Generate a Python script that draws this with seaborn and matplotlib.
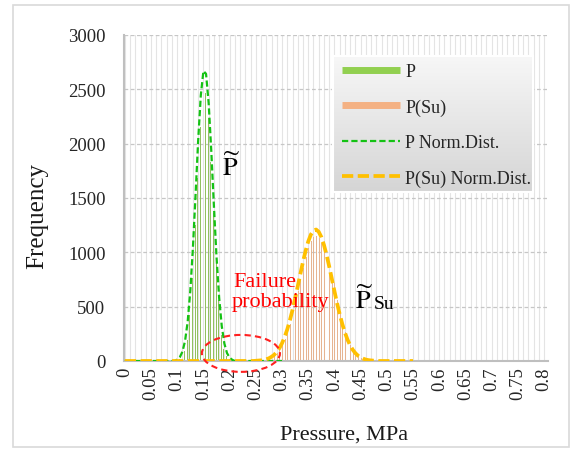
import numpy as np
import pandas as pd
import matplotlib
matplotlib.use("Agg")
import matplotlib.pyplot as plt
import seaborn as sns
from matplotlib.lines import Line2D
from matplotlib.patches import Ellipse, Rectangle
from matplotlib.colors import LinearSegmentedColormap

# Pressure bins (MPa), 0.005 apart
pressure = [round(i * 0.005, 3) for i in range(161)]
tick_labels = ["0", "0.05", "0.1", "0.15", "0.2", "0.25", "0.3", "0.35", "0.4",
               "0.45", "0.5", "0.55", "0.6", "0.65", "0.7", "0.75", "0.8"]

# Histogram of P, first bin 0.105 MPa
p_start = 0.105
p_freq = [20, 40, 95, 190, 420, 760, 1250, 1680, 2150, 2510, 2470, 2240, 1830,
          1360, 930, 560, 240, 110, 45, 15]

# Histogram of P(Su), first bin 0.27 MPa
psu_start = 0.27
psu_freq = [10, 18, 30, 48, 75, 110, 150, 200, 265, 340, 430, 530, 640, 750,
            860, 960, 1040, 1100, 1140, 1150, 1130, 1090, 1080, 940, 800, 740,
            720, 560, 460, 360, 270, 200, 150, 105, 70, 45, 30, 18, 10, 5]

# Fitted normal curves: the P curve is drawn over 0-0.30 MPa, P(Su) over 0-0.55 MPa
p_norm_end = 0.30
p_norm_start = 0.100
p_norm = [14, 36, 86, 186, 364, 648, 1046, 1530, 2031, 2445, 2669, 2643, 2373,
          1934, 1428, 958, 582, 320, 160, 73, 30, 11]

psu_norm_end = 0.55
psu_norm_start = 0.250
psu_norm = [2, 4, 6, 10, 16, 25, 39, 57, 84, 118,
            164, 221, 291, 375, 470, 576, 688, 802, 913, 1014,
            1100, 1163, 1201, 1210, 1189, 1141, 1068, 976, 870, 757,
            643, 532, 431, 340, 262, 196, 144, 103, 72, 49,
            33, 21, 13, 8, 5, 3, 2]


def idx(p):
    return int(round(p / 0.005))


def place(start, values, length):
    out = [0] * length
    i0 = idx(start)
    for k, v in enumerate(values):
        out[i0 + k] = v
    return out


n = len(pressure)
p_full = place(p_start, p_freq, n)
psu_full = place(psu_start, psu_freq, n)
p_norm_full = place(p_norm_start, p_norm, idx(p_norm_end) + 1)
psu_norm_full = place(psu_norm_start, psu_norm, idx(psu_norm_end) + 1)

green_bar = "#92d050"
orange_bar = "#f4b183"
green_line = "#14c214"
orange_line = "#ffc000"

sns.set_style("white")
plt.rcParams["font.family"] = ["Liberation Serif", "DejaVu Serif"]
plt.rcParams["mathtext.fontset"] = "stix"

W, H = 571, 452
fig = plt.figure(figsize=(W / 100, H / 100), dpi=100)
ax_l, ax_r, ax_t, ax_b = 123.5, 548, 36, 362
ax = fig.add_axes([ax_l / W, 1 - ax_b / H, (ax_r - ax_l) / W, (ax_b - ax_t) / H])

df = pd.DataFrame({
    "Pressure": pressure * 2,
    "Frequency": p_full + psu_full,
    "Series": ["P"] * n + ["P(Su)"] * n,
})
sns.barplot(data=df, x="Pressure", y="Frequency", hue="Series",
            palette={"P": green_bar, "P(Su)": orange_bar},
            width=0.7, dodge=True, linewidth=0, errorbar=None,
            legend=False, ax=ax, zorder=2)

sns.lineplot(x=list(range(len(p_norm_full))), y=p_norm_full, ax=ax,
             color=green_line, lw=1.6, linestyle=(0, (2.8, 1.4)), zorder=3)
sns.lineplot(x=list(range(len(psu_norm_full))), y=psu_norm_full, ax=ax,
             color=orange_line, lw=2.7, linestyle=(0, (3.0, 1.2)), zorder=3)

# axes and grid
ax.set_xlim(-0.5, n + 0.5)
ax.set_ylim(0, 3000)
ax.set_xticks(range(0, n, 10))
ax.set_xticks(range(0, n, 2), minor=True)
ax.set_xticklabels(tick_labels, rotation=90, fontsize=13.5, color="#262626")
ax.set_yticks(range(0, 3001, 500))
ax.set_yticklabels([str(v) for v in range(0, 3001, 500)], fontsize=13.5, color="#262626")
ax.tick_params(axis="x", which="both", length=0, pad=4)
ax.tick_params(axis="y", length=5, width=1, color="#bfbfbf", pad=8)
ax.set_axisbelow(True)
ax.grid(axis="x", which="both", color="#e4e4e4", lw=0.8, ls="-")
ax.grid(axis="y", which="major", color="#c6c6c6", lw=0.9, ls=(0, (3, 2)))
for s in ("top", "right"):
    ax.spines[s].set_visible(False)
for s in ("left", "bottom"):
    ax.spines[s].set_color("#bfbfbf")
    ax.spines[s].set_linewidth(1.5)

ax.set_xlabel("Pressure, MPa", fontsize=16, color="#1a1a1a")
ax.set_ylabel("Frequency", fontsize=18, color="#1a1a1a")
ax.xaxis.set_label_coords((344 - ax_l) / (ax_r - ax_l), -(435 - ax_b) / (ax_b - ax_t))
ax.xaxis.label.set_va("center")
ax.yaxis.set_label_coords(-(ax_l - 37) / (ax_r - ax_l), 1 - (216 - ax_t) / (ax_b - ax_t))
ax.yaxis.label.set_va("center")

# annotations
ax.text(idx(0.185), 1710, r"$\widetilde{\mathrm{P}}$", fontsize=19,
        ha="left", va="baseline", color="black", zorder=6)
ax.text(idx(0.4425), 489, r"$\widetilde{\mathrm{P}}$", fontsize=19,
        ha="left", va="baseline", color="black", zorder=6)
ax.text(95.0, 489, "Su", fontsize=14, ha="left", va="baseline", color="black", zorder=6)
ax.text(41.3, 692, "Failure", fontsize=16, color="#ff0000", ha="left", va="baseline", zorder=6)
ax.text(40.9, 508, "probability", fontsize=16, color="#ff0000", ha="left", va="baseline", zorder=6)
ax.add_patch(Ellipse((44.3, 70), 29.8, 340, fill=False, edgecolor="#ff2020",
                     lw=1.5, ls=(0, (3, 2)), clip_on=False, zorder=6))

# legend with a soft gradient panel
lx0 = (333 - ax_l) / (ax_r - ax_l)
lx1 = (533 - ax_l) / (ax_r - ax_l)
ly0 = 1 - (193 - ax_t) / (ax_b - ax_t)
ly1 = 1 - (57 - ax_t) / (ax_b - ax_t)
grad = np.linspace(0, 1, 200).reshape(-1, 1)
cmap = LinearSegmentedColormap.from_list("panel", ["#f7f7f7", "#d5d5d5"])
ax.imshow(grad, cmap=cmap, extent=(lx0, lx1, ly0, ly1), transform=ax.transAxes,
          aspect="auto", origin="upper", zorder=4, interpolation="bilinear")
ax.add_patch(Rectangle((lx0, ly0), lx1 - lx0, ly1 - ly0, transform=ax.transAxes,
                       fill=False, edgecolor="white", lw=1.5, zorder=4.5))
ax.set_xlim(-0.5, n + 0.5)
ax.set_ylim(0, 3000)

handles = [
    Line2D([], [], color=green_bar, lw=5, solid_capstyle="butt"),
    Line2D([], [], color=orange_bar, lw=5, solid_capstyle="butt"),
    Line2D([], [], color=green_line, lw=1.6, ls=(0, (2.8, 1.4))),
    Line2D([], [], color=orange_line, lw=2.7, ls=(0, (3.0, 1.2))),
]
labels = ["P", "P(Su)", "P Norm.Dist.", "P(Su) Norm.Dist."]
leg = ax.legend(handles, labels, loc="upper left",
                bbox_to_anchor=((342 - ax_l) / (ax_r - ax_l), 1 - (64 - ax_t) / (ax_b - ax_t)),
                frameon=False, borderpad=0, borderaxespad=0, handlelength=3.2,
                handletextpad=0.3, labelspacing=1.02, prop={"size": 13})
leg.set_zorder(5)

fig.patches.append(Rectangle((13 / W, 1 - 448 / H), (569 - 13) / W, (448 - 6) / H,
                             transform=fig.transFigure, fill=False,
                             edgecolor="#d9d9d9", lw=1.2))

fig.savefig("out.png", dpi=100, facecolor="white")
